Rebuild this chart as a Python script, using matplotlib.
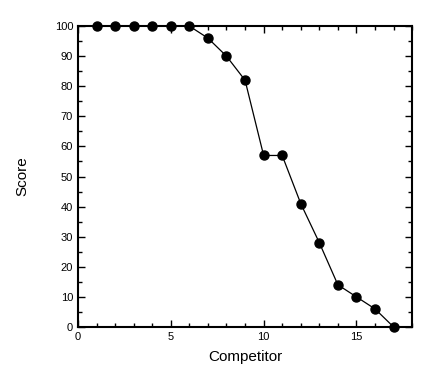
import matplotlib
matplotlib.use("Agg")
import matplotlib.pyplot as plt
from matplotlib.ticker import MultipleLocator

competitor = [1, 2, 3, 4, 5, 6, 7, 8, 9, 10, 11, 12, 13, 14, 15, 16, 17]
score = [100, 100, 100, 100, 100, 100, 96, 90, 82, 57, 57, 41, 28, 14, 10, 6, 0]

plt.rcParams['font.family'] = ['Liberation Sans', 'DejaVu Sans']

fig = plt.figure(figsize=(4.38, 3.78), dpi=100)
ax = fig.add_axes([0.178, 0.135, 0.763, 0.796])
ax.plot(competitor, score, color='black', lw=0.9, marker='o', ms=6.5,
        clip_on=False, zorder=3)
ax.set_xlim(0, 18)
ax.set_ylim(0, 100)
ax.xaxis.set_major_locator(MultipleLocator(5))
ax.xaxis.set_minor_locator(MultipleLocator(1))
ax.yaxis.set_major_locator(MultipleLocator(10))
ax.yaxis.set_minor_locator(MultipleLocator(5))
ax.tick_params(which='both', direction='in', top=True, right=True, labelsize=8, width=1)
ax.tick_params(which='major', length=5)
ax.tick_params(which='minor', length=3)
for s in ax.spines.values():
    s.set_linewidth(1.5)
ax.set_xlabel('Competitor', fontsize=11, labelpad=6)
ax.set_ylabel('Score', fontsize=11, labelpad=18)
fig.savefig('out.png', dpi=100)
